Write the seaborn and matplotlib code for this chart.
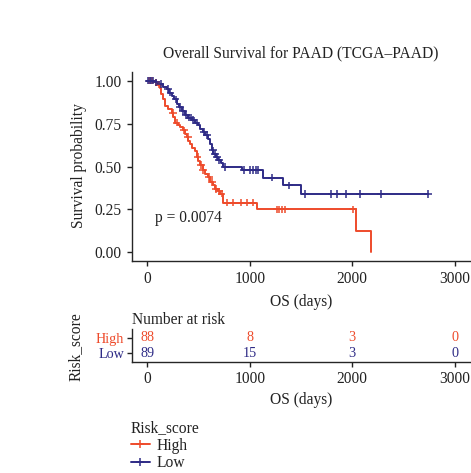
import numpy as np
import pandas as pd
import matplotlib
matplotlib.use("Agg")
import matplotlib.pyplot as plt
from matplotlib.lines import Line2D
import seaborn as sns

# ---- Kaplan-Meier step values (time in days, survival after the step) ----
high_times = [0, 60, 95, 124, 135, 150, 172, 200, 238, 255, 270, 300, 319, 345,
              367, 384, 400, 416, 435, 465, 481, 497, 514, 540, 562, 590, 611,
              640, 660, 685, 708, 741, 1066, 2034, 2180]
high_surv = [1.0, 0.989, 0.977, 0.955, 0.92, 0.89, 0.853, 0.835, 0.814, 0.79,
             0.756, 0.74, 0.727, 0.71, 0.688, 0.672, 0.65, 0.63, 0.61, 0.592,
             0.555, 0.53, 0.507, 0.48, 0.458, 0.44, 0.41, 0.39, 0.37, 0.355,
             0.342, 0.29, 0.25, 0.125, 0.0]
high_censor = [20, 45, 80, 110, 250, 285, 360, 395, 490, 525, 545, 600, 630,
               670, 700, 725, 774, 838, 913, 969, 1027, 1261, 1287, 1310, 1342,
               2008]

low_times = [0, 70, 107, 150, 189, 215, 238, 260, 286, 310, 335, 367, 400, 440,
             465, 497, 514, 540, 562, 595, 611, 627, 645, 670, 692, 715, 741,
             920, 1131, 1320, 1500, 2740]
low_surv = [1.0, 0.99, 0.979, 0.96, 0.95, 0.93, 0.911, 0.89, 0.862, 0.845,
            0.824, 0.80, 0.785, 0.77, 0.756, 0.739, 0.717, 0.70, 0.685, 0.66,
            0.632, 0.594, 0.574, 0.555, 0.536, 0.52, 0.497, 0.48, 0.435, 0.39,
            0.34, 0.34]
low_censor = [10, 25, 40, 55, 85, 130, 200, 225, 275, 320, 350, 380, 410, 425,
              450, 480, 550, 580, 640, 660, 680, 700, 760, 946, 1001, 1033,
              1059, 1082, 1212, 1384, 1537, 1797, 1852, 1943, 2075, 2284, 2740]

# ---- Number at risk table ----
risk_times = [0, 1000, 2000, 3000]
risk_high = [88, 8, 3, 0]
risk_low = [89, 15, 3, 0]
groups = ["High", "Low"]
p_text = "p = 0.0074"

RED = "#EE4B2B"
BLUE = "#2E2B86"
palette = {"High": RED, "Low": BLUE}

sns.set_theme(style="ticks")
plt.rcParams["font.family"] = ["Liberation Serif", "DejaVu Serif"]
plt.rcParams["axes.linewidth"] = 1.0
FS = 11.2
FS_ROW = 10.2
TXT = "#222222"


def step_value(times, surv, t):
    idx = np.searchsorted(times, t, side="right") - 1
    return surv[idx]


curves = pd.concat([
    pd.DataFrame({"time": high_times, "surv": high_surv, "group": "High"}),
    pd.DataFrame({"time": low_times, "surv": low_surv, "group": "Low"}),
])
marks = pd.concat([
    pd.DataFrame({"time": high_censor,
                  "surv": [step_value(high_times, high_surv, t) for t in high_censor],
                  "group": "High"}),
    pd.DataFrame({"time": low_censor,
                  "surv": [step_value(low_times, low_surv, t) for t in low_censor],
                  "group": "Low"}),
])

W, H = 471, 473
fig = plt.figure(figsize=(W / 100, H / 100), dpi=100)


def px_rect(l, t, r, b):
    return [l / W, 1 - b / H, (r - l) / W, (b - t) / H]


# ---- survival curves ----
ax = fig.add_axes(px_rect(132, 72, 470, 261))
sns.lineplot(data=curves, x="time", y="surv", hue="group", hue_order=groups,
             palette=palette, drawstyle="steps-post", estimator=None,
             sort=False, linewidth=1.4, legend=False, ax=ax)
sns.scatterplot(data=marks, x="time", y="surv", hue="group", hue_order=groups,
                palette=palette, marker="+", s=30, linewidth=1.1,
                legend=False, ax=ax, zorder=3)
ax.set_xlim(-150, 3150)
ax.set_ylim(-0.05, 1.05)
ax.set_xticks([0, 1000, 2000, 3000])
ax.set_yticks([0, 0.25, 0.5, 0.75, 1.0])
ax.set_yticklabels(["0.00", "0.25", "0.50", "0.75", "1.00"])
ax.set_xlabel("")
ax.set_ylabel("")
ax.tick_params(labelsize=FS, length=3.5, width=1.0, colors=TXT,
               labelcolor=TXT, pad=4)
sns.despine(ax=ax)
ax.text(70, 0.2, p_text, fontsize=FS, va="center", ha="left", color=TXT)

fig.text(301 / W, 1 - 53 / H, "Overall Survival for PAAD (TCGA\u2013PAAD)",
         ha="center", va="center", fontsize=FS, color=TXT)
fig.text(79 / W, 1 - 166 / H, "Survival probability", rotation=90,
         ha="center", va="center", fontsize=FS, color=TXT)
fig.text(301 / W, 1 - 302 / H, "OS (days)", ha="center", va="center",
         fontsize=FS, color=TXT)

# ---- risk table: rows at y=2 (High) and y=1 (Low) ----
rax = fig.add_axes(px_rect(132, 329, 470, 362))
rax.set_xlim(-150, 3150)
rax.set_ylim(0.45, 2.55)
for t, n in zip(risk_times, risk_high):
    rax.text(t, 2, str(n), ha="center", va="center", fontsize=FS_ROW, color=RED)
for t, n in zip(risk_times, risk_low):
    rax.text(t, 1, str(n), ha="center", va="center", fontsize=FS_ROW, color=BLUE)
rax.set_xticks(risk_times)
rax.set_yticks([2, 1])
rax.set_yticklabels(groups)
rax.tick_params(axis="x", labelsize=FS, length=3.5, width=1.0, colors=TXT, pad=3)
rax.tick_params(axis="y", labelsize=FS_ROW, length=3.5, width=1.0, colors=TXT, pad=2)
for lab, g in zip(rax.get_yticklabels(), groups):
    lab.set_color(palette[g])
sns.despine(ax=rax)
rax.text(0, 1.04, "Number at risk", transform=rax.transAxes, ha="left",
         va="bottom", fontsize=FS, color=TXT)
fig.text(76 / W, 1 - 347 / H, "Risk_score", rotation=90, ha="center",
         va="center", fontsize=FS, color=TXT)
fig.text(301 / W, 1 - 400 / H, "OS (days)", ha="center", va="center",
         fontsize=FS, color=TXT)

# ---- legend ----
handles = [Line2D([0], [0], color=palette[g], lw=1.4, marker="+",
                  markersize=6, markeredgewidth=1.1) for g in groups]
leg = fig.legend(handles, groups, title="Risk_score", loc="upper left",
                 bbox_to_anchor=(131 / W, 1 - 420 / H), frameon=False,
                 fontsize=FS, title_fontsize=FS, borderpad=0,
                 borderaxespad=0, handlelength=1.2, handletextpad=0.45,
                 labelspacing=0.1)
leg._legend_box.align = "left"
for txt in leg.get_texts():
    txt.set_color(TXT)
leg.get_title().set_color(TXT)

fig.savefig("out.png", dpi=100)
